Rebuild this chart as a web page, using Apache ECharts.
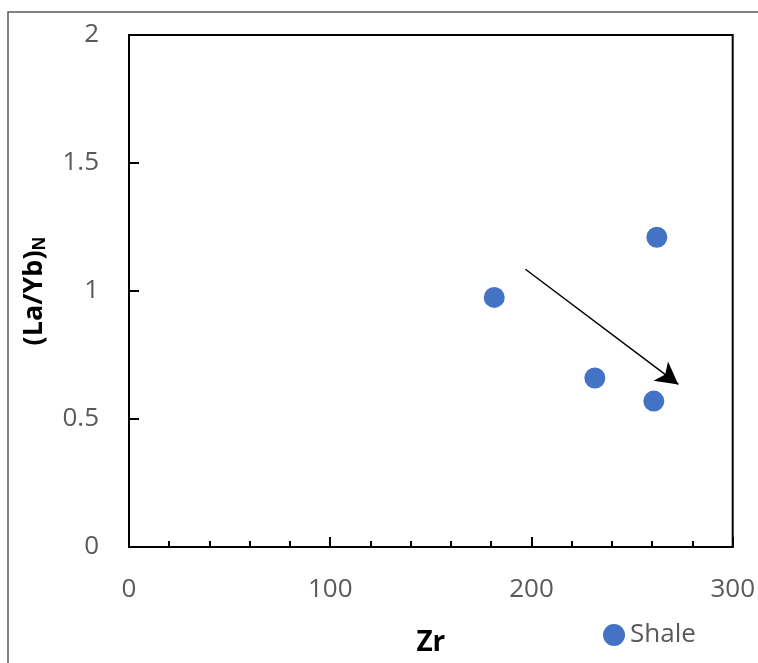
<!DOCTYPE html>
<html>
<head>
<meta charset="utf-8">
<script src="https://cdn.jsdelivr.net/npm/echarts@6/dist/echarts.min.js"></script>
<style>
html,body{margin:0;padding:0;background:#fff;}
#chart{width:758px;height:663px;}
</style>
</head>
<body>
<div id="chart"></div>
<script>
// Data
const seriesName = 'Shale';
const zrValues = [181.5, 262.3, 231.5, 260.8];
const laYbValues = [0.975, 1.21, 0.66, 0.57];
const arrowStart = [197, 1.085];
const arrowEnd = [273, 0.635];
const xTicks = [0, 100, 200, 300];
const yTicks = [0, 0.5, 1, 1.5, 2];

const points = zrValues.map((x, i) => [x, laYbValues[i]]);
const FONT = '"Open Sans", "Noto Sans", sans-serif';

const chart = echarts.init(document.getElementById('chart'));
chart.setOption({
  backgroundColor: '#fff',
  animation: false,
  graphic: [{
    type: 'rect',
    shape: {x: 8, y: 12, width: 800, height: 700},
    style: {fill: 'none', stroke: '#595959', lineWidth: 1.5},
    silent: true
  }],
  grid: {
    left: 129, top: 35, right: 25, bottom: 116,
    show: true, borderColor: '#000', borderWidth: 2, backgroundColor: 'transparent'
  },
  legend: {
    data: [seriesName],
    left: 598, top: 617,
    icon: 'circle', itemWidth: 22, itemHeight: 22, itemGap: 6,
    textStyle: {color: '#595959', fontSize: 26, fontFamily: FONT}
  },
  xAxis: {
    type: 'value', min: xTicks[0], max: xTicks[xTicks.length - 1], interval: 100,
    name: 'Zr', nameLocation: 'middle', nameGap: 82,
    nameTextStyle: {color: '#000', fontSize: 28, fontWeight: 'bold', fontFamily: FONT},
    axisLine: {show: true, lineStyle: {color: '#000', width: 2}},
    axisTick: {show: true, inside: true, length: 10, lineStyle: {color: '#000', width: 2}},
    minorTick: {show: true, splitNumber: 5, length: 6, lineStyle: {color: '#000', width: 2}},
    axisLabel: {color: '#595959', fontSize: 26, margin: 30, fontFamily: FONT},
    splitLine: {show: false}
  },
  yAxis: {
    type: 'value', min: yTicks[0], max: yTicks[yTicks.length - 1], interval: 0.5,
    name: '{a|(La/Yb)}{b|N}', nameLocation: 'middle', nameGap: 80,
    nameTextStyle: {
      rich: {
        a: {color: '#000', fontSize: 27, fontWeight: 'bold', fontFamily: FONT},
        b: {color: '#000', fontSize: 17, fontWeight: 'bold', fontFamily: FONT, verticalAlign: 'bottom', padding: [12, 0, 0, 0]}
      }
    },
    axisLine: {show: true, lineStyle: {color: '#000', width: 2}},
    axisTick: {show: true, inside: true, length: 10, lineStyle: {color: '#000', width: 2}},
    axisLabel: {color: '#595959', fontSize: 26, margin: 30, fontFamily: FONT},
    splitLine: {show: false}
  },
  series: [{
    name: seriesName,
    type: 'scatter',
    data: points,
    symbol: 'circle',
    symbolSize: 21,
    itemStyle: {color: '#4472C4', opacity: 1},
    markLine: {
      silent: true,
      symbol: ['none', 'arrow'],
      symbolSize: [18, 22],
      label: {show: false},
      lineStyle: {color: '#000', width: 1.5, type: 'solid'},
      data: [[{coord: arrowStart}, {coord: arrowEnd}]]
    }
  }]
});
</script>
</body>
</html>
